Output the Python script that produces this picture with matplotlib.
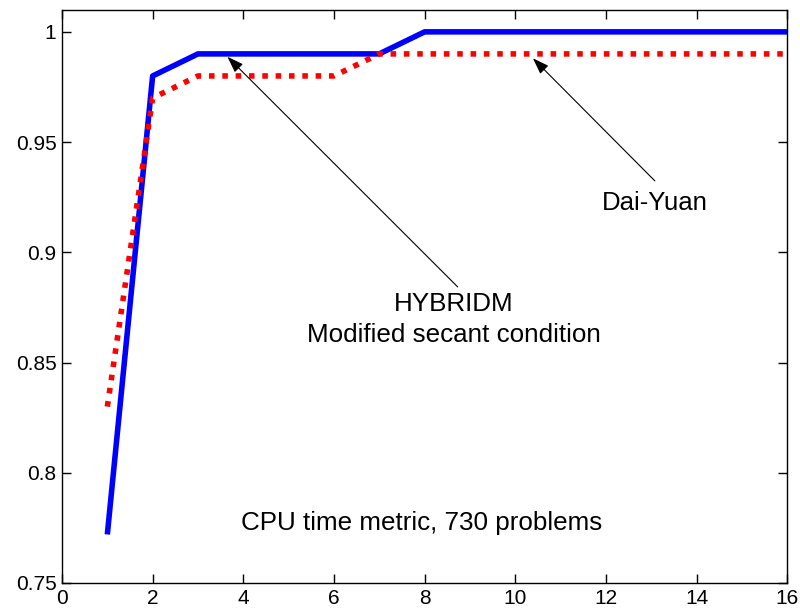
"""
CPU time performance profile: HYBRIDM (modified secant condition) vs Dai-Yuan.
"""
import matplotlib
matplotlib.use("Agg")
import matplotlib.pyplot as plt

# performance profile values
hyb_x = [1, 2, 3, 7, 8, 16]
hyb_y = [0.772, 0.98, 0.99, 0.99, 1.0, 1.0]
dy_x = [1, 2, 3, 6, 7, 16]
dy_y = [0.83, 0.97, 0.98, 0.98, 0.99, 0.99]

xticks = [0, 2, 4, 6, 8, 10, 12, 14, 16]
yticks = [0.75, 0.8, 0.85, 0.9, 0.95, 1.0]
ytick_labels = ["0.75", "0.8", "0.85", "0.9", "0.95", "1"]

plt.rcParams["font.family"] = ["Liberation Sans", "DejaVu Sans"]

fig = plt.figure(figsize=(8, 6.13), dpi=100)
ax = fig.add_axes([0.0775, 0.049, 0.9065, 0.935])

ax.plot(hyb_x, hyb_y, color="#0000ff", lw=4, solid_capstyle="butt")
ax.plot(dy_x, dy_y, color="#ff0000", lw=4, linestyle=(0, (1, 1.4)),
        dash_capstyle="butt")

ax.set_xlim(0, 16)
ax.set_ylim(0.75, 1.01)
ax.set_xticks(xticks)
ax.set_yticks(yticks)
ax.set_yticklabels(ytick_labels)
ax.tick_params(direction="in", length=6.5, width=1, top=True, right=True,
               labelsize=15, colors="black", pad=4)
for sp in ax.spines.values():
    sp.set_linewidth(1)

arrow = dict(arrowstyle="-|>,head_length=1.0,head_width=0.35", color="black",
             lw=0.8, shrinkA=0, shrinkB=0)
ax.annotate("", xy=(3.65, 0.9887), xytext=(8.73, 0.8843), arrowprops=arrow)
ax.annotate("", xy=(10.39, 0.988), xytext=(13.08, 0.9324), arrowprops=arrow)

ax.text(13.08, 0.9224, "Dai-Yuan", fontsize=18.5, ha="center", va="center")
ax.text(8.64, 0.8695, "HYBRIDM\nModified secant condition", fontsize=18.7,
        ha="center", va="center", linespacing=1.35)
ax.text(7.93, 0.777, "CPU time metric, 730 problems", fontsize=18.7,
        ha="center", va="center")

plt.savefig("out.png", dpi=100)
plt.close()
